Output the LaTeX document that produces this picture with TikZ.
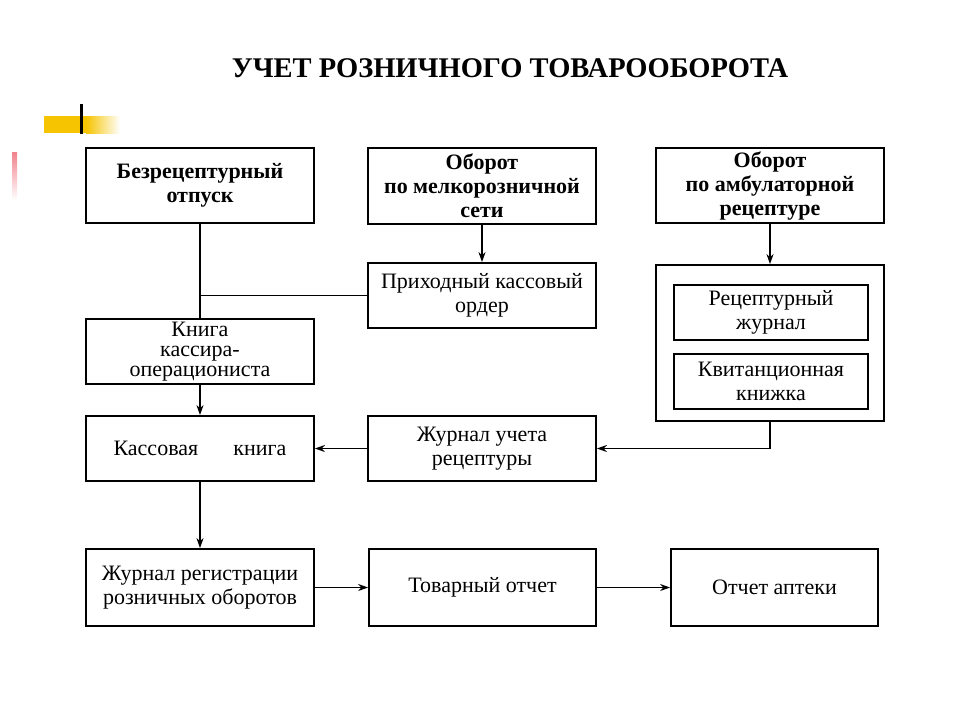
\documentclass[tikz,border=0pt]{standalone}
\usepackage{fontspec}
\setmainfont{Liberation Serif}
\usetikzlibrary{arrows.meta}
\definecolor{barYellow}{RGB}{246,196,0}
\definecolor{barPink}{RGB}{240,130,140}
\tikzset{
  box/.style={draw, line width=1.8pt, inner sep=0pt, align=center, font=\fontsize{22}{24}\selectfont},
  boldbox/.style={box, font=\fontsize{22}{24}\selectfont\bfseries},
  conn/.style={line width=1.6pt},
  arr/.style={conn, -{Stealth[length=10pt,width=7pt]}}
}
\begin{document}
\begin{tikzpicture}[x=1pt,y=-1pt]
\useasboundingbox (0,0) rectangle (960,720);
% decorations
\fill[barYellow] (44,116) rectangle (86,133);
\shade[left color=barYellow, right color=white] (86,116) rectangle (120,133);
\fill[black] (79.5,104) rectangle (82.5,134);
\shade[top color=barPink, bottom color=white] (12,152) rectangle (17,200);
% title
\node (title) at (510,68) {\fontsize{28.5}{32}\selectfont\bfseries УЧЕТ РОЗНИЧНОГО ТОВАРООБОРОТА};
% top row
\node[boldbox, minimum width=228pt, minimum height=75pt] (b1) at (200,185.5) {Безрецептурный\\отпуск};
\node[boldbox, minimum width=228pt, minimum height=76pt] (b2) at (482,186) {Оборот\\по мелкорозничной\\сети};
\node[boldbox, minimum width=228pt, minimum height=75pt] (b3) at (770,185.5) {Оборот\\по амбулаторной\\рецептуре};
% second row
\node[box, minimum width=228pt, minimum height=65pt] (pko) at (482,295.5) {Приходный кассовый\\ордер};
\node[box, minimum width=228pt, minimum height=156pt] (outer) at (770,343) {};
\node[box, minimum width=194pt, minimum height=55pt] (rj) at (771,312.5) {Рецептурный\\журнал};
\node[box, minimum width=194pt, minimum height=55pt] (kq) at (771,381.5) {Квитанционная\\книжка};
\node[box, minimum width=228pt, minimum height=65pt, font=\fontsize{22}{20}\selectfont] (kko) at (200,351.5) {Книга\\кассира-\\операциониста};
% third row
\node[box, minimum width=228pt, minimum height=65pt] (kb) at (200,448.5) {Кассовая\hspace{1.6em}книга};
\node[box, minimum width=228pt, minimum height=65pt] (jur) at (482,448.5) {Журнал учета\\рецептуры};
% bottom row
\node[box, minimum width=228pt, minimum height=77pt] (jrr) at (200,587.5) {Журнал регистрации\\розничных оборотов};
\node[box, minimum width=227pt, minimum height=77pt] (to) at (482.5,587.5) {Товарный отчет};
\node[box, minimum width=207pt, minimum height=77pt] (oa) at (774.5,587.5) {Отчет аптеки};
% connectors
\draw[conn] (b1.south) -- (kko.north);
\draw[conn] (pko.west) -- (pko.west -| b1.south);
\draw[arr] (b2.south) -- (pko.north);
\draw[arr] (b3.south) -- (outer.south |- outer.north);
\draw[arr] (kko.south) -- (kb.north);
\draw[arr] (outer.south) |- (jur.east);
\draw[arr] (jur.west) -- (kb.east);
\draw[arr] (kb.south) -- (jrr.north);
\draw[arr] (jrr.east) -- (to.west);
\draw[arr] (to.east) -- (oa.west);
\end{tikzpicture}
\end{document}
